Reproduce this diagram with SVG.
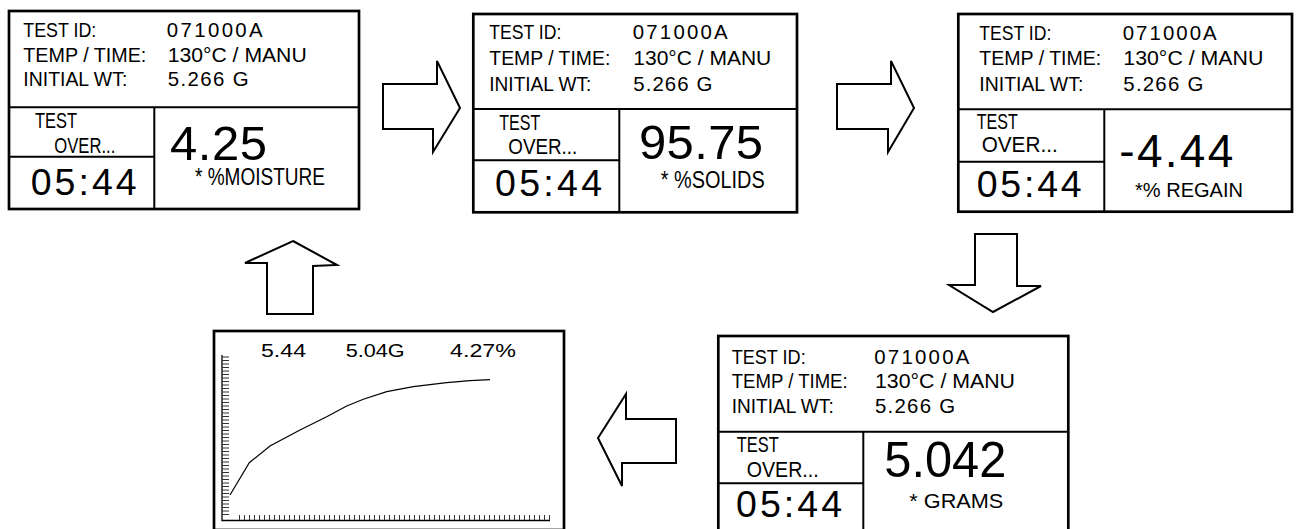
<svg xmlns="http://www.w3.org/2000/svg" width="1298" height="529" viewBox="0 0 1298 529">
<style>
  .frame { fill: #fff; stroke: #000; stroke-width: 2.7; }
  .div { stroke: #000; stroke-width: 2; fill: none; }
  .arrow { fill: #fff; stroke: #000; stroke-width: 2; stroke-linejoin: miter; }
  text { font-family: "Liberation Sans", Arial, sans-serif; fill: #000; }
  .lbl { font-size: 20.4px; }
  .sm { font-size: 22.5px; }
  .clock { font-size: 37.5px; }
  .big { font-size: 49px; }
  .unit { font-size: 23px; }
  .glbl { font-size: 19px; }
  .tick { stroke: #333; stroke-width: 1; }
  .curve { fill: none; stroke: #000; stroke-width: 1.2; }
</style>
<rect width="1298" height="529" fill="#fff"/>

<g id="panel-moisture">
  <rect class="frame" x="9" y="11" width="350" height="198"/>
  <path class="div" d="M9 107.3 H359 M154.3 107.3 V209 M9 156.7 H154.3"/>
  <text class="lbl" x="23.3" y="37.3" textLength="73" lengthAdjust="spacingAndGlyphs">TEST ID:</text>
  <text class="lbl" x="23.3" y="62" textLength="123" lengthAdjust="spacingAndGlyphs">TEMP / TIME:</text>
  <text class="lbl" x="23.3" y="86" textLength="104" lengthAdjust="spacingAndGlyphs">INITIAL WT:</text>
  <text class="lbl" x="166.7" y="37.3" textLength="96" lengthAdjust="spacing">071000A</text>
  <text class="lbl" x="167.7" y="62" textLength="139" lengthAdjust="spacingAndGlyphs">130°C / MANU</text>
  <text class="lbl" x="167.7" y="86" textLength="81" lengthAdjust="spacing">5.266 G</text>
  <text class="sm" x="35" y="127.7" textLength="42" lengthAdjust="spacingAndGlyphs">TEST</text>
  <text class="sm" x="54.3" y="152.5" textLength="61" lengthAdjust="spacingAndGlyphs">OVER...</text>
  <text class="clock" x="30.7" y="195" textLength="106" lengthAdjust="spacing">05:44</text>
  <text class="big" x="170" y="160" textLength="97" lengthAdjust="spacing">4.25</text>
  <text class="unit" x="195" y="185" textLength="130" lengthAdjust="spacingAndGlyphs">* %MOISTURE</text>
</g>

<g id="panel-solids">
  <rect class="frame" x="473.3" y="14" width="323.7" height="198.3"/>
  <path class="div" d="M473.3 109 H797 M619.3 109 V212.3 M473.3 160.3 H619.3"/>
  <text class="lbl" x="489.3" y="39.3" textLength="72" lengthAdjust="spacingAndGlyphs">TEST ID:</text>
  <text class="lbl" x="489.3" y="65" textLength="121" lengthAdjust="spacingAndGlyphs">TEMP / TIME:</text>
  <text class="lbl" x="489.3" y="90.7" textLength="102" lengthAdjust="spacingAndGlyphs">INITIAL WT:</text>
  <text class="lbl" x="632.7" y="39.3" textLength="95" lengthAdjust="spacing">071000A</text>
  <text class="lbl" x="633.3" y="65" textLength="138" lengthAdjust="spacingAndGlyphs">130°C / MANU</text>
  <text class="lbl" x="633.3" y="90.7" textLength="79" lengthAdjust="spacing">5.266 G</text>
  <text class="sm" x="499.3" y="130" textLength="41" lengthAdjust="spacingAndGlyphs">TEST</text>
  <text class="sm" x="508.3" y="154" textLength="69" lengthAdjust="spacingAndGlyphs">OVER...</text>
  <text class="clock" x="495" y="196" textLength="107" lengthAdjust="spacing">05:44</text>
  <text class="big" x="639" y="159.3" textLength="124" lengthAdjust="spacing">95.75</text>
  <text class="unit" x="660.7" y="188.3" textLength="104" lengthAdjust="spacingAndGlyphs">* %SOLIDS</text>
</g>

<g id="panel-regain">
  <rect class="frame" x="958.3" y="14" width="333.7" height="197.7"/>
  <path class="div" d="M958.3 109.3 H1292 M1104.3 109.3 V211.7 M958.3 161.7 H1104.3"/>
  <text class="lbl" x="979.3" y="40" textLength="72" lengthAdjust="spacingAndGlyphs">TEST ID:</text>
  <text class="lbl" x="979.3" y="65" textLength="122" lengthAdjust="spacingAndGlyphs">TEMP / TIME:</text>
  <text class="lbl" x="979.3" y="90.7" textLength="104" lengthAdjust="spacingAndGlyphs">INITIAL WT:</text>
  <text class="lbl" x="1122.7" y="40" textLength="94" lengthAdjust="spacing">071000A</text>
  <text class="lbl" x="1123.3" y="65" textLength="140" lengthAdjust="spacingAndGlyphs">130°C / MANU</text>
  <text class="lbl" x="1123.3" y="90.7" textLength="80" lengthAdjust="spacing">5.266 G</text>
  <text class="sm" x="976.7" y="129.3" textLength="41" lengthAdjust="spacingAndGlyphs">TEST</text>
  <text class="sm" x="981.7" y="151.7" textLength="76" lengthAdjust="spacingAndGlyphs">OVER...</text>
  <text class="clock" x="976.7" y="196.7" textLength="105" lengthAdjust="spacing">05:44</text>
  <text class="big" x="1119.3" y="166.7" style="font-size:46px" textLength="114" lengthAdjust="spacing">-4.44</text>
  <text class="lbl" x="1135" y="197.3" textLength="108" lengthAdjust="spacingAndGlyphs">*% REGAIN</text>
</g>

<g id="panel-grams">
  <rect class="frame" x="718.3" y="336" width="350" height="200"/>
  <path class="div" d="M718.3 431.7 H1068.3 M863.3 431.7 V536 M718.3 483.3 H863.3"/>
  <text class="lbl" x="731.7" y="364.3" textLength="74" lengthAdjust="spacingAndGlyphs">TEST ID:</text>
  <text class="lbl" x="731.7" y="388.3" textLength="116" lengthAdjust="spacingAndGlyphs">TEMP / TIME:</text>
  <text class="lbl" x="731.7" y="413.3" textLength="102" lengthAdjust="spacingAndGlyphs">INITIAL WT:</text>
  <text class="lbl" x="874.3" y="364.3" textLength="95" lengthAdjust="spacing">071000A</text>
  <text class="lbl" x="875" y="388.3" textLength="140" lengthAdjust="spacingAndGlyphs">130°C / MANU</text>
  <text class="lbl" x="875" y="413.3" textLength="80" lengthAdjust="spacing">5.266 G</text>
  <text class="sm" x="736.7" y="452.3" textLength="42" lengthAdjust="spacingAndGlyphs">TEST</text>
  <text class="sm" x="746.7" y="476.7" textLength="72" lengthAdjust="spacingAndGlyphs">OVER...</text>
  <text class="clock" x="736" y="516.7" textLength="106" lengthAdjust="spacing">05:44</text>
  <text class="big" x="884.3" y="476.7" style="font-size:50px" textLength="122" lengthAdjust="spacingAndGlyphs">5.042</text>
  <text class="lbl" x="909.3" y="508.3" style="font-size:21px" textLength="94" lengthAdjust="spacingAndGlyphs">* GRAMS</text>
</g>

<g id="panel-graph">
  <rect class="frame" x="214" y="331" width="350" height="199"/>
  <text class="glbl" x="261" y="357.3" textLength="45" lengthAdjust="spacingAndGlyphs">5.44</text>
  <text class="glbl" x="345.7" y="357.3" textLength="59" lengthAdjust="spacingAndGlyphs">5.04G</text>
  <text class="glbl" x="450" y="357.3" textLength="66" lengthAdjust="spacingAndGlyphs">4.27%</text>
  <path stroke="#000" stroke-width="1.3" fill="none" d="M222 355 V520.5 H550"/>
  <path class="tick" d="M222 357H229M222 360.5H229M222 364H229M222 367.5H229M222 371H229M222 374.5H229M222 378H229M222 381.5H229M222 385H229M222 388.5H229M222 392H229M222 395.5H229M222 399H229M222 402.5H229M222 406H229M222 409.5H229M222 413H229M222 416.5H229M222 420H229M222 423.5H229M222 427H229M222 430.5H229M222 434H229M222 437.5H229M222 441H229M222 444.5H229M222 448H229M222 451.5H229M222 455H229M222 458.5H229M222 462H229M222 465.5H229M222 469H229M222 472.5H229M222 476H229M222 479.5H229M222 483H229M222 486.5H229M222 490H229M222 493.5H229M222 497H229M222 500.5H229M222 504H229M222 507.5H229M222 511H229M222 514.5H229"/>
  <path class="tick" d="M239.5 515V520M244.5 515V520M249.5 515V520M254.5 515V520M259.5 515V520M264.5 515V520M269.5 515V520M274.5 515V520M279.5 515V520M284.5 515V520M289.5 515V520M294.5 515V520M299.5 515V520M304.5 515V520M309.5 515V520M314.5 515V520M319.5 515V520M324.5 515V520M329.5 515V520M334.5 515V520M339.5 515V520M344.5 515V520M349.5 515V520M354.5 515V520M359.5 515V520M364.5 515V520M369.5 515V520M374.5 515V520M379.5 515V520M384.5 515V520M389.5 515V520M394.5 515V520M399.5 515V520M404.5 515V520M409.5 515V520M414.5 515V520M419.5 515V520M424.5 515V520M429.5 515V520M434.5 515V520M439.5 515V520M444.5 515V520M449.5 515V520M454.5 515V520M459.5 515V520M464.5 515V520M469.5 515V520M474.5 515V520M479.5 515V520M484.5 515V520M489.5 515V520M494.5 515V520M499.5 515V520M504.5 515V520M509.5 515V520M514.5 515V520M519.5 515V520M524.5 515V520M529.5 515V520M534.5 515V520M539.5 515V520M544.5 515V520M549.5 515V520"/>
  <polyline class="curve" points="230,495 249.3,462.7 270,446 300,430 326.7,416.7 346.7,406 363.3,399.3 386.7,391.7 413.3,386.7 446.7,382.7 470,380.7 490,379.7"/>
</g>

<g id="connectors">
  <polygon class="arrow" points="383,84 437,84 437,61 460,108 433,152 433,129 383,129"/>
  <polygon class="arrow" points="837,84 891,84 891,61 914,108 888,152 888,129 837,129"/>
  <polygon class="arrow" points="975,234 1017,234 1017,286 1041,286 993,312 949,285 975,285"/>
  <polygon class="arrow" points="598,438 626,394 626,419 676,419 676,463 622,463 622,486"/>
  <polygon class="arrow" points="293,241 337,265 313,266 313,314 267,314 267,263 245,263"/>
</g>
</svg>
